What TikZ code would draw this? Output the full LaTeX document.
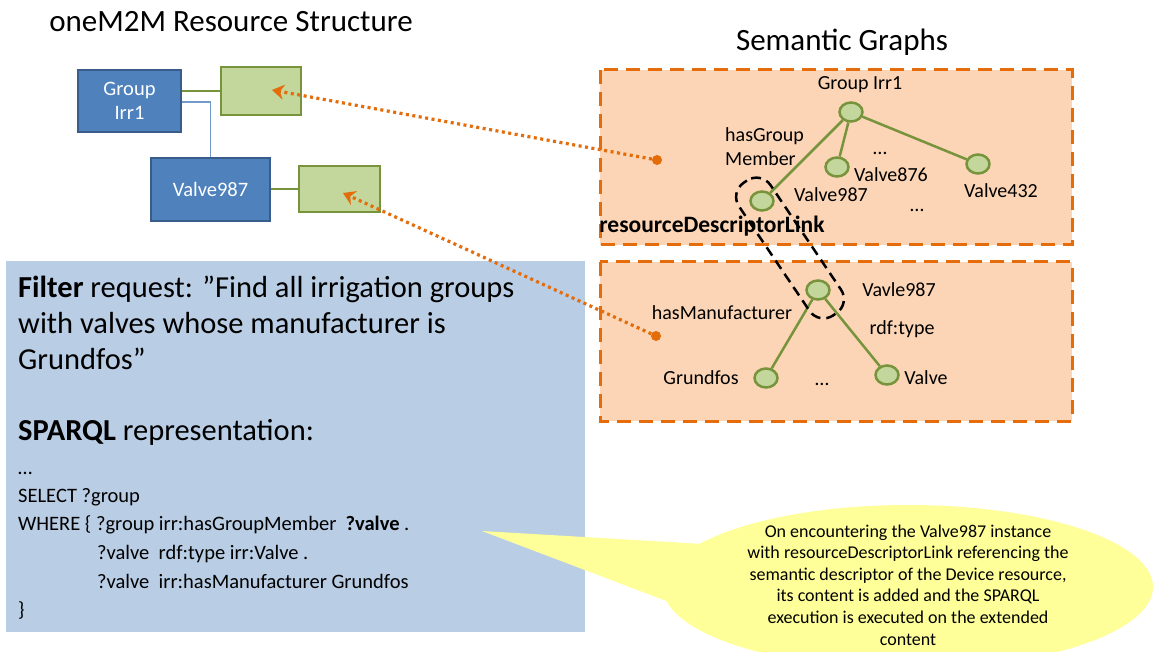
\documentclass[tikz,border=0pt]{standalone}
\usepackage{fontspec}
\setmainfont{Carlito}
\usetikzlibrary{arrows.meta,shapes.geometric}
\definecolor{bluefill}{HTML}{4F81BD}
\definecolor{blueline}{HTML}{385D8A}
\definecolor{greenfill}{HTML}{C3D69B}
\definecolor{greenline}{HTML}{77933C}
\definecolor{orangeline}{HTML}{E46C0A}
\definecolor{peach}{HTML}{FBD5B5}
\definecolor{paleblue}{HTML}{B9CDE5}
\definecolor{paleyellow}{HTML}{FFFF99}
\newcommand{\fs}[1]{\fontsize{#1}{\dimexpr#1pt*12/10\relax}\selectfont}
\tikzset{
  resbox/.style={draw=blueline, fill=bluefill, line width=2.5pt, text=white, align=center, font=\fs{20.5}},
  descbox/.style={draw=greenline, fill=greenfill, line width=2.5pt},
  gnode/.style={ellipse, draw=greenline, fill=greenfill, line width=2.5pt, minimum width=23pt, minimum height=19pt, inner sep=0pt},
  gedge/.style={draw=greenline, line width=2.5pt},
  glabel/.style={font=\fs{20}, inner sep=0pt, align=left},
  sgbox/.style={draw=orangeline, fill=peach, line width=3pt, dash pattern=on 14pt off 8pt},
  dotlink/.style={draw=orangeline, line width=3.2pt, dash pattern=on 3pt off 3.5pt, -{Stealth[length=12pt,width=15pt,inset=4pt]}},
  srcdot/.style={circle, fill=orangeline, minimum size=10pt, inner sep=0pt},
  big/.style={font=\fs{30.5}, inner sep=0pt, anchor=base west},
  code/.style={font=\fs{20.5}, inner sep=0pt, anchor=base west},
}
\begin{document}
\begin{tikzpicture}[x=1pt,y=-1pt]
\useasboundingbox (0,0) rectangle (1161,652);
% titles
\node[font=\fs{31}, inner sep=0pt] (title1) at (231,22) {oneM2M Resource Structure};
\node[font=\fs{31}, inner sep=0pt] (title2) at (842,42) {Semantic Graphs};
% semantic graph boxes
\path[sgbox] (600,70) rectangle (1072,245);
\path[sgbox] (600,262) rectangle (1072,421);
% resource structure
\node[resbox, minimum width=103pt, minimum height=62pt] (grp) at (129.5,101) {Group\\Irr1};
\node[resbox, minimum width=119pt, minimum height=63pt] (valve) at (210.5,189.5) {Valve987};
\node[descbox, minimum width=80pt, minimum height=48pt] (d1) at (261,91) {};
\node[descbox, minimum width=81pt, minimum height=46pt] (d2) at (339.5,189) {};
\draw[greenline, line width=1.5pt] (grp.east |- d1.west) -- (d1.west);
\draw[greenline, line width=1.5pt] (valve.east |- d2.west) -- (d2.west);
\draw[bluefill!80!white, line width=1.5pt] ([yshift=-1pt]grp.east) -| (valve.north);
% filter box
\node[fill=paleblue, minimum width=579pt, minimum height=371pt, inner sep=0pt] (filter) at (295.5,446.5) {};
\node[big] (f1) at (18,297) {\textbf{Filter} request: ”Find all irrigation groups};
\node[big] (f2) at (18,333) {with valves whose manufacturer is};
\node[big] (f3) at (18,369) {Grundfos”};
\node[big] (f4) at (18,440) {\textbf{SPARQL} representation:};
\node[code] (c0) at (18,474) {…};
\node[code] (c1) at (18,502) {SELECT ?group};
\node[code] (c2) at (18,530) {WHERE \{ ?group irr:hasGroupMember \ \textbf{?valve} .};
\node[code] (c3) at (97,559) {?valve \ rdf:type irr:Valve .};
\node[code] (c4) at (97,588) {?valve \ irr:hasManufacturer Grundfos};
\node[code] (c5) at (18,616) {\}};
% callout
\coordinate (tip) at (482,531);
\fill[paleyellow] (tip) -- (720,545) -- (690,610) -- cycle;
\node[ellipse, fill=paleyellow, minimum width=490pt, minimum height=164pt, inner sep=0pt] (callout) at (908,587) {};
\node[font=\fs{18}, align=center, inner sep=0pt] (ctext) at (908,585) {On encountering the Valve987 instance\\with resourceDescriptorLink referencing the\\semantic descriptor of the Device resource,\\its content is added and the SPARQL\\execution is executed on the extended\\content};
% graph 1
\node[gnode] (g) at (851,112) {};
\node[gnode] (v876) at (837,167) {};
\node[gnode] (v432) at (978,164) {};
\node[gnode] (v987) at (762,201) {};
\draw[gedge] (g) -- (v876);
\draw[gedge] (g) -- (v432);
\draw[gedge] (g) -- (v987);
\node[glabel] (lg) at (860,85) {Group Irr1};
\node[glabel] (l876) at (891,175) {Valve876};
\node[glabel] (l432) at (1001,191) {Valve432};
\node[glabel] (l987) at (831,195) {Valve987};
\node[glabel, anchor=west] (lhas) at (725,147) {hasGroup\\Member};
\node[glabel] (dots1) at (880,153) {…};
\node[glabel] (dots2) at (917,210) {…};
% graph 2
\node[gnode] (vv) at (818,290) {};
\node[gnode] (gf) at (766,378) {};
\node[gnode] (vt) at (887,375) {};
\draw[gedge] (vv) -- (gf);
\draw[gedge] (vv) -- (vt);
\node[glabel] (lvv) at (899,290) {Vavle987};
\node[glabel] (lman) at (722,313) {hasManufacturer};
\node[glabel] (ltype) at (902,329) {rdf:type};
\node[glabel] (lgf) at (701,378) {Grundfos};
\node[glabel] (lvt) at (926,378) {Valve};
\node[glabel] (dots3) at (822,384) {…};
% dashed link outline
\draw[black, line width=2.5pt, dash pattern=on 10pt off 6pt, rounded corners=17pt, rotate around={-56:(790,248)}] (710,229) rectangle (870,267);
\node[font=\fs{23.5}\bfseries, inner sep=0pt] (rdl) at (712,226) {resourceDescriptorLink};
% dotted links
\node[srcdot] (s1) at (657,160) {};
\node[srcdot] (s2) at (656,336) {};
\draw[dotlink] (s1) -- (272,90);
\draw[dotlink] (s2) -- (343,193);
\end{tikzpicture}
\end{document}
